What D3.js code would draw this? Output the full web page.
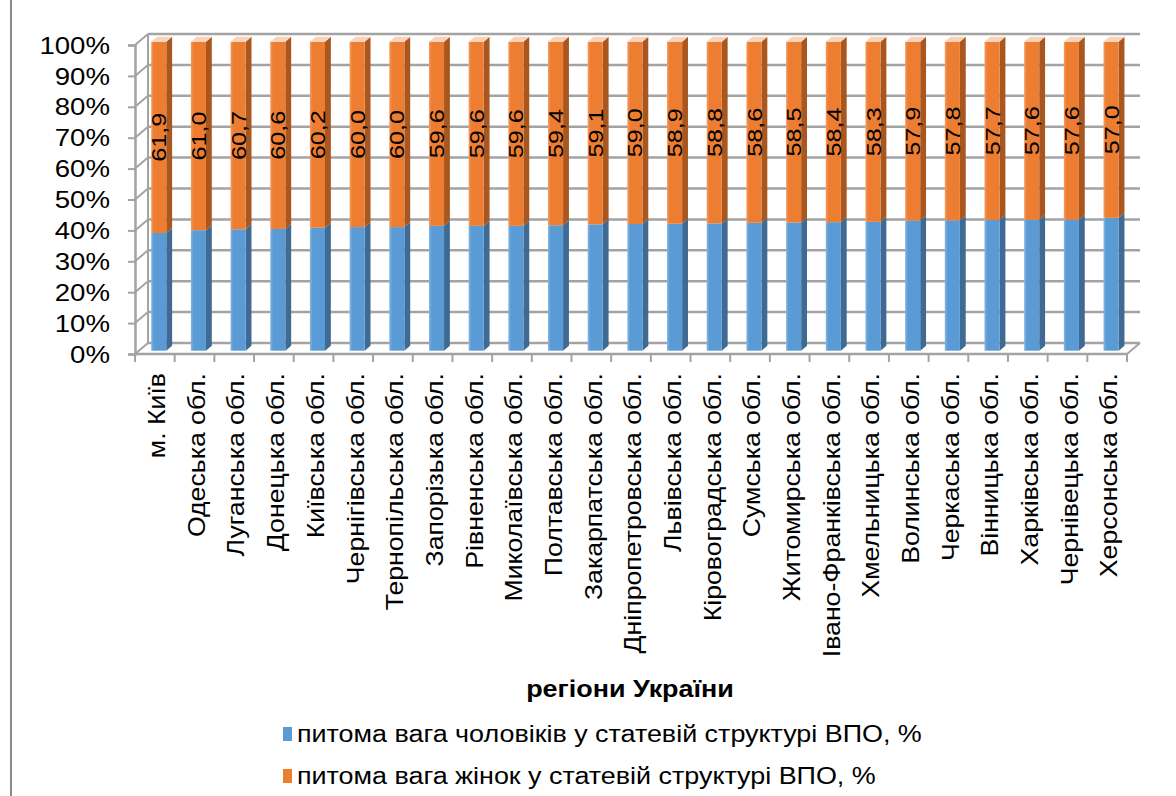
<!DOCTYPE html>
<html>
<head>
<meta charset="utf-8">
<script src="https://cdn.jsdelivr.net/npm/d3@7"></script>
<style>
  html, body { margin: 0; padding: 0; background: #fff; }
  svg { display: block; font-family: "Liberation Sans", Arial, sans-serif; }
</style>
</head>
<body>
<svg id="chart" width="1176" height="796"></svg>
<script>
const regions = ["м. Київ", "Одеська обл.", "Луганська обл.", "Донецька обл.", "Київська обл.",
  "Чернігівська обл.", "Тернопільська обл.", "Запорізька обл.", "Рівненська обл.", "Миколаївська обл.",
  "Полтавська обл.", "Закарпатська обл.", "Дніпропетровська обл.", "Львівська обл.", "Кіровоградська обл.",
  "Сумська обл.", "Житомирська обл.", "Івано-Франківська обл.", "Хмельницька обл.", "Волинська обл.",
  "Черкаська обл.", "Вінницька обл.", "Харківська обл.", "Чернівецька обл.", "Херсонська обл."];
const maleShare = [38.1, 39.0, 39.3, 39.4, 39.8, 40.0, 40.0, 40.4, 40.4, 40.4, 40.6, 40.9, 41.0,
  41.1, 41.2, 41.4, 41.5, 41.6, 41.7, 42.1, 42.2, 42.3, 42.4, 42.4, 43.0];
const femaleShare = [61.9, 61.0, 60.7, 60.6, 60.2, 60.0, 60.0, 59.6, 59.6, 59.6, 59.4, 59.1, 59.0,
  58.9, 58.8, 58.6, 58.5, 58.4, 58.3, 57.9, 57.8, 57.7, 57.6, 57.6, 57.0];
const seriesNames = ["питома вага чоловіків у статевій структурі ВПО, %", "питома вага жінок у статевій структурі ВПО, %"];
const yTicks = [0, 10, 20, 30, 40, 50, 60, 70, 80, 90, 100];
const axisTitle = "регіони України";

const svg = d3.select("#chart");

// geometry
const X0 = 135, X1 = 1127, YB = 354, YT = 45;
const DX = 13, DY = -11;              // wall depth
const BF = 0.3, BD = 0.45;            // bar front position & thickness as fraction of depth
const TS = 1.17;                      // horizontal text stretch

const x = d3.scaleBand().domain(regions).range([X0, X1]).paddingInner(0.62).paddingOuter(0.31);
const y = d3.scaleLinear().domain([0, 100]).range([YB, YT]);

const table = regions.map((r, i) => ({ region: r, male: maleShare[i], female: femaleShare[i] }));
const stack = d3.stack().keys(["male", "female"]);
const stacked = stack(table);

const colors = {
  male:   { front: "#5B9BD5", light: "#86B6E3", side: "#3E6A93", top: "#A9CBEA" },
  female: { front: "#ED7D31", light: "#F39D62", side: "#A9561F", top: "#F8D3BA" }
};

// gradients
const defs = svg.append("defs");
Object.entries(colors).forEach(([k, c]) => {
  const g = defs.append("linearGradient").attr("id", "grad-" + k).attr("x1", 0).attr("x2", 1).attr("y1", 0).attr("y2", 0);
  g.append("stop").attr("offset", 0).attr("stop-color", c.light);
  g.append("stop").attr("offset", 0.18).attr("stop-color", c.front);
  g.append("stop").attr("offset", 1).attr("stop-color", c.front);
});

// left border line
svg.append("line").attr("x1", 11).attr("x2", 11).attr("y1", 0).attr("y2", 796)
  .attr("stroke", "#8a8a8a").attr("stroke-width", 2);

const gridColor = "#A3A3A3";
const grid = svg.append("g");

// back wall gridlines + left wall diagonals
yTicks.forEach(t => {
  const yy = y(t);
  grid.append("line").attr("x1", X0 + DX).attr("x2", X1 + DX).attr("y1", yy + DY).attr("y2", yy + DY)
    .attr("stroke", gridColor).attr("stroke-width", 2.5);
  grid.append("line").attr("x1", X0).attr("x2", X0 + DX).attr("y1", yy).attr("y2", yy + DY)
    .attr("stroke", gridColor).attr("stroke-width", 2);
});
// back wall left edge
grid.append("line").attr("x1", X0 + DX).attr("x2", X0 + DX).attr("y1", y(100) + DY).attr("y2", y(0) + DY)
  .attr("stroke", gridColor).attr("stroke-width", 2);
// floor front edge & right edge
grid.append("line").attr("x1", X0).attr("x2", X1).attr("y1", y(0)).attr("y2", y(0))
  .attr("stroke", gridColor).attr("stroke-width", 2.5);
grid.append("line").attr("x1", X1).attr("x2", X1 + DX).attr("y1", y(0)).attr("y2", y(0) + DY)
  .attr("stroke", gridColor).attr("stroke-width", 2);

// y axis (front)
const yAxisG = svg.append("g").attr("transform", `translate(${X0},0)`)
  .call(d3.axisLeft(y).tickValues(yTicks).tickSize(7).tickFormat(""));
yAxisG.select(".domain").attr("stroke", gridColor).attr("stroke-width", 2.5);
yAxisG.selectAll(".tick line").attr("stroke", gridColor).attr("stroke-width", 2);

const yLab = svg.append("g");
yTicks.forEach(t => {
  yLab.append("g").attr("transform", `translate(110,${y(t)}) scale(1.15,1)`)
    .append("text").attr("text-anchor", "end").attr("dy", "0.36em")
    .attr("font-size", 24).attr("fill", "#000").text(t + "%");
});

// x axis ticks below floor
const xTickPos = regions.map((r, i) => X0 + i * (X1 - X0) / regions.length).concat([X1]);
const xt = svg.append("g");
xTickPos.forEach(px => {
  xt.append("line").attr("x1", px).attr("x2", px).attr("y1", y(0)).attr("y2", y(0) + 8)
    .attr("stroke", gridColor).attr("stroke-width", 2);
});

// bars (pseudo 3D)
const fx = DX * BF, fy = DY * BF;
const sx = DX * BD, sy = DY * BD;
const bw = x.bandwidth();
const barsG = svg.append("g");
stacked.forEach(layer => {
  const c = colors[layer.key];
  const g = barsG.append("g");
  layer.forEach((d, i) => {
    const left = x(d.data.region) + fx;
    const yTop = y(d[1]) + fy, yBot = y(d[0]) + fy;
    g.append("path")
      .attr("d", `M${left + bw},${yTop} L${left + bw + sx},${yTop + sy} L${left + bw + sx},${yBot + sy} L${left + bw},${yBot} Z`)
      .attr("fill", c.side);
    g.append("rect").attr("x", left).attr("y", yTop).attr("width", bw).attr("height", yBot - yTop)
      .attr("fill", `url(#grad-${layer.key})`);
    if (layer.key === "female") {
      g.append("path")
        .attr("d", `M${left},${yTop} L${left + sx},${yTop + sy} L${left + bw + sx},${yTop + sy} L${left + bw},${yTop} Z`)
        .attr("fill", c.top);
    }
  });
});

// value labels for female share
const fmt = v => v.toFixed(1).replace(".", ",");
const femaleLayer = stacked[1];
femaleLayer.forEach(d => {
  const cx = x(d.data.region) + fx + bw / 2;
  const cy = (y(d[0]) + y(d[1])) / 2 + fy;
  svg.append("g").attr("transform", `translate(${cx},${cy}) rotate(-90) scale(1.2,1)`)
    .append("text").attr("text-anchor", "middle").attr("dy", "0.36em")
    .attr("font-size", 21).attr("fill", "#000").text(fmt(d.data.female));
});

// category labels
regions.forEach(r => {
  const cx = x(r) + bw / 2 + 2;
  svg.append("g").attr("transform", `translate(${cx},373) rotate(-90) scale(1.16,1)`)
    .append("text").attr("text-anchor", "end").attr("dy", "0.36em")
    .attr("font-size", 23).attr("fill", "#000").text(r);
});

// axis title
svg.append("g").attr("transform", `translate(630,697) scale(${TS},1)`)
  .append("text").attr("text-anchor", "middle")
  .attr("font-size", 23).attr("font-weight", "bold").attr("fill", "#000").text(axisTitle);

// legend
const legend = svg.append("g");
const legendKeys = ["male", "female"];
legendKeys.forEach((k, i) => {
  const ly = 734 + i * 42;
  legend.append("rect").attr("x", 283).attr("y", ly - 7).attr("width", 9).attr("height", 14)
    .attr("fill", colors[k].front);
  legend.append("g").attr("transform", `translate(297,${ly}) scale(${TS},1)`)
    .append("text").attr("dy", "0.36em")
    .attr("font-size", 23).attr("fill", "#000").text(seriesNames[i]);
});
</script>
</body>
</html>
